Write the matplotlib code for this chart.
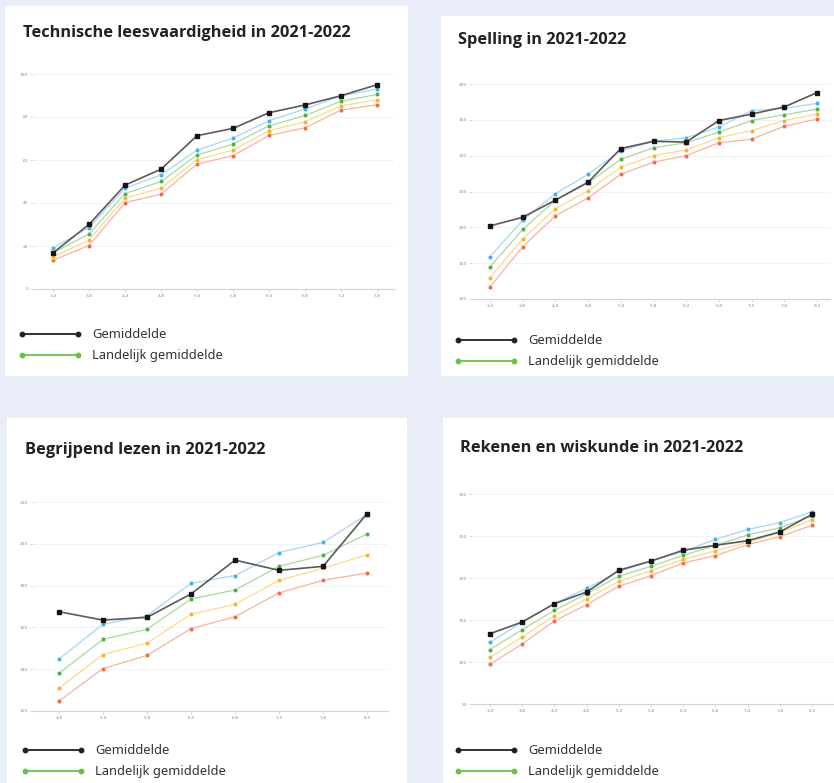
import matplotlib
matplotlib.use("Agg")
import matplotlib.pyplot as plt
from matplotlib.patches import Rectangle
from matplotlib.lines import Line2D

W, H = 834, 783

# ---------------- data ----------------
titles = ["Technische leesvaardigheid in 2021-2022",
          "Spelling in 2021-2022",
          "Begrijpend lezen in 2021-2022",
          "Rekenen en wiskunde in 2021-2022"]

x_tech = ["3-4", "3-8", "4-4", "4-8", "5-4", "5-8", "6-4", "6-8", "7-4", "7-8"]
tech_black = [16.8, 30.0, 48.3, 55.7, 71.3, 74.7, 82.0, 85.6, 89.9, 95.0]
tech_blue = [19.1, 28.6, 46.9, 53.1, 64.6, 70.2, 78.3, 83.7, 89.8, 93.0]
tech_green = [16.8, 25.6, 44.4, 50.0, 62.3, 67.4, 75.9, 80.7, 87.3, 90.5]
tech_yellow = [14.9, 22.8, 42.2, 46.9, 60.2, 64.6, 73.6, 77.8, 85.2, 88.0]
tech_red = [13.4, 20.2, 40.2, 44.1, 58.1, 62.0, 71.4, 75.0, 83.2, 85.7]
tech_yticks = [0, 20, 40, 60, 80, 100]

x_spel = ["3-4", "3-8", "4-4", "4-8", "5-4", "5-8", "6-4", "6-8", "7-4", "7-8", "8-4"]
spel_black = [202, 214, 238, 263, 310, 320, 319, 349, 358, 368, 388]
spel_blue = [159, 210, 247, 274, 307, 320, 325, 340, 363, 366, 373]
spel_green = [145, 197, 238, 262, 295, 311, 318, 333, 349, 357, 365]
spel_yellow = [130, 184, 226, 251, 284, 300, 308, 325, 335, 349, 358]
spel_red = [117, 173, 216, 241, 274, 291, 300, 318, 323, 341, 351]
spel_yticks = [100, 150, 200, 250, 300, 350, 400]

x_begr = ["4-8", "5-4", "5-8", "6-4", "6-8", "7-4", "7-8", "8-4"]
begr_black = [167.5, 163.5, 164.8, 176.0, 192.2, 187.3, 189.2, 214.4]
begr_blue = [144.9, 161.5, 165.6, 181.1, 184.8, 195.8, 200.7, 214.0]
begr_green = [138.0, 154.3, 159.1, 173.6, 177.9, 189.2, 194.5, 204.7]
begr_yellow = [131.0, 147.0, 152.5, 166.3, 171.0, 182.5, 188.3, 194.8]
begr_red = [124.8, 140.3, 146.6, 159.4, 165.1, 176.5, 182.5, 186.0]
begr_yticks = [120, 140, 160, 180, 200, 220]

x_rek = ["3-4", "3-8", "4-4", "4-8", "5-4", "5-8", "6-4", "6-8", "7-4", "7-8", "8-4"]
rek_black = [133.7, 147.6, 169.4, 183.3, 209.1, 220.2, 233.0, 238.9, 244.4, 254.8, 275.8]
rek_blue = [123.4, 147.6, 169.4, 187.7, 207.9, 220.2, 231.7, 246.0, 257.9, 265.9, 279.0]
rek_green = [114.7, 138.5, 161.5, 181.3, 202.0, 213.9, 227.0, 238.9, 251.2, 259.9, 273.8]
rek_yellow = [105.6, 129.8, 155.2, 175.0, 196.0, 208.7, 222.2, 232.5, 242.5, 254.0, 269.4]
rek_red = [97.2, 121.4, 148.8, 168.3, 190.1, 202.8, 217.9, 226.6, 239.7, 249.2, 262.7]
rek_yticks = [50, 100, 150, 200, 250, 300]

legend_labels = ["Gemiddelde", "Landelijk gemiddelde"]

# ---------------- styles ----------------
BG = "#e9edf7"
series_style = [  # (line colour, marker colour)
    ("#f8b3a0", "#ef6c4a"),
    ("#fcd98e", "#f5b335"),
    ("#a9d9a0", "#4cae4c"),
    ("#a3d8f1", "#46b1e1"),
]

fig = plt.figure(figsize=(W / 100, H / 100), dpi=100)
fig.patch.set_facecolor(BG)


def fbox(x0, y0, x1, y1):
    return [x0 / W, 1 - y1 / H, (x1 - x0) / W, (y1 - y0) / H]


cards = [(5, 6, 408, 376), (441, 16, 834, 376), (7, 418, 407, 783), (443, 418, 834, 783)]
for (x0, y0, x1, y1) in cards:
    b = fbox(x0, y0, x1, y1)
    fig.patches.append(Rectangle((b[0], b[1]), b[2], b[3], transform=fig.transFigure,
                                 facecolor="white", edgecolor="none", zorder=-5))


def panel(ax_px, yv, ypx, xpx, labels, yticks, series):
    x0, x1, yt, yb = ax_px
    ax = fig.add_axes(fbox(x0, yt, x1, yb))
    ax.set_zorder(2)
    ax.set_facecolor("none")
    s = (yv[1] - yv[0]) / (ypx[0] - ypx[1])
    ax.set_ylim(yv[0] - (yb - ypx[0]) * s, yv[1] + (ypx[1] - yt) * s)
    n = len(labels)
    sx = (n - 1) / (xpx[1] - xpx[0])
    ax.set_xlim(-(xpx[0] - x0) * sx, (n - 1) + (x1 - xpx[1]) * sx)
    xs = list(range(n))
    black = series[0]
    others = series[1:]
    for i, (vals, (lc, mc)) in enumerate(zip(others, series_style)):
        ax.plot(xs, vals, color=lc, lw=0.9, zorder=2 + i)
        ax.plot(xs, vals, ls="none", marker="o", ms=3.3, color=mc,
                markeredgecolor="white", markeredgewidth=0.3, zorder=2.5 + i, clip_on=False)
    ax.plot(xs, black, color="#5a5a5a", lw=1.2, zorder=10)
    ax.plot(xs, black, ls="none", marker="s", ms=3.3, color="#151515", zorder=11, clip_on=False)
    ax.set_yticks(yticks)
    ax.set_yticklabels([str(t) for t in yticks])
    ax.set_xticks(xs)
    ax.set_xticklabels(labels)
    ax.grid(axis="y", color="#f1f1f1", lw=0.6, zorder=0)
    for sp in ["top", "right", "left"]:
        ax.spines[sp].set_visible(False)
    ax.spines["bottom"].set_color("#d2d2d2")
    ax.spines["bottom"].set_linewidth(0.8)
    ax.spines["bottom"].set_position(("data", yv[0]))
    ax.tick_params(axis="both", length=2, width=0.4, color="#bbbbbb",
                   labelsize=3.2, labelcolor="#8c8c8c", pad=1.5)
    return ax


panel((33, 395, 64, 289), (0, 100), (289, 74), (53, 377), x_tech, tech_yticks,
      [tech_black, tech_red, tech_yellow, tech_green, tech_blue])
panel((472, 830, 76, 299), (100, 400), (299, 84), (490, 817), x_spel, spel_yticks,
      [spel_black, spel_red, spel_yellow, spel_green, spel_blue])
panel((33, 388, 494, 711), (120, 220), (711, 502), (59, 367), x_begr, begr_yticks,
      [begr_black, begr_red, begr_yellow, begr_green, begr_blue])
panel((472, 834, 486, 704), (50, 300), (704, 494), (490, 812), x_rek, rek_yticks,
      [rek_black, rek_red, rek_yellow, rek_green, rek_blue])

# titles
title_pos = [(23, 33), (458, 40), (25, 450), (460, 448)]
for t, (x, y) in zip(titles, title_pos):
    fig.text(x / W, 1 - y / H, t, fontsize=11.8, fontweight="bold", family="Open Sans",
             color="#222222", va="center", ha="left")

# legends
leg_pos = [(22, 78, 92, 334, 355), (458, 514, 528, 340, 361),
           (25, 81, 95, 750, 771), (458, 514, 528, 750, 771)]
for (lx0, lx1, tx, ya, yb) in leg_pos:
    for y, col, lab in [(ya, "#222222", legend_labels[0]), (yb, "#6cc04a", legend_labels[1])]:
        fy = 1 - y / H
        fig.add_artist(Line2D([lx0 / W, lx1 / W], [fy, fy], color=col, lw=1.3,
                              marker="o", ms=3.2, markevery=[0, 1], transform=fig.transFigure))
        fig.text(tx / W, fy, lab, fontsize=9.3, family="Noto Sans", color="#333333",
                 va="center", ha="left")

fig.savefig("out.png", dpi=100, facecolor=BG)
